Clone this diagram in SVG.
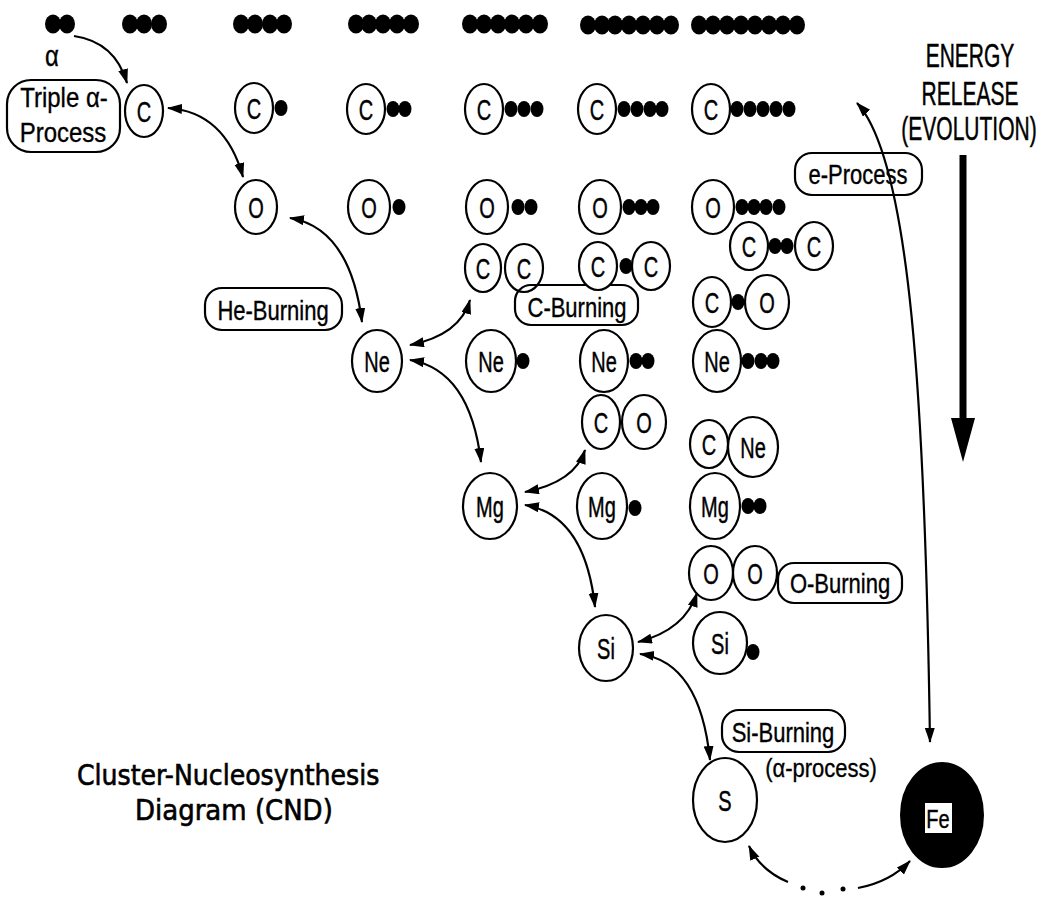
<svg xmlns="http://www.w3.org/2000/svg" width="1043" height="897" viewBox="0 0 1043 897">
<style>
.n{fill:#fff;stroke:#000;stroke-width:2.2}
.d{fill:#000}
.b{fill:none;stroke:#000;stroke-width:2.2}
.c{fill:none;stroke:#000;stroke-width:2.2}
.t{font-family:"Liberation Sans",Arial,sans-serif;font-size:20px;text-anchor:middle;fill:#000;stroke:#000;stroke-width:0.3}
.l{font-family:"Liberation Sans",Arial,sans-serif;font-size:22px;text-anchor:middle;fill:#000;stroke:#000;stroke-width:0.3}
.h{font-family:"DejaVu Sans","Liberation Sans",sans-serif;font-size:26px;fill:#000;stroke:#000;stroke-width:0.6}
</style>
<defs>
<marker id="ah" markerUnits="userSpaceOnUse" markerWidth="16" markerHeight="12" refX="14" refY="5" orient="auto-start-reverse">
<path d="M0,0 L15,5 L0,10 z" fill="#000"/>
</marker>
</defs>
<rect width="1043" height="897" fill="#fff"/>

<g id="top-row">
<g class="d">
<ellipse cx="53" cy="24" rx="8" ry="9.5"/><ellipse cx="67" cy="24" rx="8" ry="9.5"/>
<ellipse cx="130" cy="24" rx="8" ry="9.5"/><ellipse cx="144" cy="24" rx="8" ry="9.5"/><ellipse cx="159" cy="24" rx="8" ry="9.5"/>
<ellipse cx="241" cy="24" rx="8" ry="9.5"/><ellipse cx="255" cy="24" rx="8" ry="9.5"/><ellipse cx="270" cy="24" rx="8" ry="9.5"/><ellipse cx="284" cy="24" rx="8" ry="9.5"/>
<ellipse cx="356" cy="24" rx="8" ry="9.5"/><ellipse cx="369" cy="24" rx="8" ry="9.5"/><ellipse cx="383" cy="24" rx="8" ry="9.5"/><ellipse cx="397" cy="24" rx="8" ry="9.5"/><ellipse cx="411" cy="24" rx="8" ry="9.5"/>
<ellipse cx="470" cy="24" rx="8" ry="9.5"/><ellipse cx="484" cy="24" rx="8" ry="9.5"/><ellipse cx="498" cy="24" rx="8" ry="9.5"/><ellipse cx="512" cy="24" rx="8" ry="9.5"/><ellipse cx="526" cy="24" rx="8" ry="9.5"/><ellipse cx="540" cy="24" rx="8" ry="9.5"/>
<ellipse cx="588" cy="25" rx="8" ry="9.5"/><ellipse cx="602" cy="25" rx="8" ry="9.5"/><ellipse cx="615" cy="25" rx="8" ry="9.5"/><ellipse cx="629" cy="25" rx="8" ry="9.5"/><ellipse cx="643" cy="25" rx="8" ry="9.5"/><ellipse cx="657" cy="25" rx="8" ry="9.5"/><ellipse cx="671" cy="25" rx="8" ry="9.5"/>
<ellipse cx="699" cy="25" rx="8" ry="9.5"/><ellipse cx="713" cy="25" rx="8" ry="9.5"/><ellipse cx="727" cy="25" rx="8" ry="9.5"/><ellipse cx="741" cy="25" rx="8" ry="9.5"/><ellipse cx="755" cy="25" rx="8" ry="9.5"/><ellipse cx="769" cy="25" rx="8" ry="9.5"/><ellipse cx="783" cy="25" rx="8" ry="9.5"/><ellipse cx="797" cy="25" rx="8" ry="9.5"/>
</g>
</g>

<g id="connectors">
<path class="c" d="M74 36 Q115 42 127 83" marker-end="url(#ah)"/>
<path class="c" d="M168 108 Q225 112 243 177" marker-start="url(#ah)" marker-end="url(#ah)"/>
<path class="c" d="M290 218 Q350 228 362 322" marker-start="url(#ah)" marker-end="url(#ah)"/>
<path class="c" d="M410 345 Q460 335 470 300" marker-start="url(#ah)" marker-end="url(#ah)"/>
<path class="c" d="M410 360 Q470 370 481 462" marker-start="url(#ah)" marker-end="url(#ah)"/>
<path class="c" d="M525 492 Q575 482 585 450" marker-start="url(#ah)" marker-end="url(#ah)"/>
<path class="c" d="M525 505 Q585 515 595 607" marker-start="url(#ah)" marker-end="url(#ah)"/>
<path class="c" d="M638 642 Q685 630 697 593" marker-start="url(#ah)" marker-end="url(#ah)"/>
<path class="c" d="M640 654 Q700 662 710 760" marker-start="url(#ah)" marker-end="url(#ah)"/>
<path class="c" d="M788 882 Q760 870 749 846" marker-end="url(#ah)"/>
<path class="c" d="M858 888 Q890 882 910 861" marker-end="url(#ah)"/>
<circle class="d" cx="803" cy="888" r="2.5"/><circle class="d" cx="822" cy="893" r="2.5"/><circle class="d" cx="843" cy="889" r="2.5"/>
<path class="c" d="M857 103 C910 160 925 400 930 742" marker-start="url(#ah)" marker-end="url(#ah)"/>
<line x1="963" y1="155" x2="963" y2="422" stroke="#000" stroke-width="7"/>
<polygon points="951,418 975,418 963,462" fill="#000"/>
</g>

<g id="labels">
<text class="l" transform="translate(52 66) scale(1 1.2)" style="font-size:24px">α</text>
<text class="t" transform="translate(970 67) scale(1 1.55)" style="font-size:21px">ENERGY</text>
<text class="t" transform="translate(970 105) scale(1 1.55)" style="font-size:21px">RELEASE</text>
<text class="t" transform="translate(969 140) scale(1 1.55)" style="font-size:21px">(EVOLUTION)</text>
<text class="h" transform="translate(77 785) scale(0.97 1.1)">Cluster-Nucleosynthesis</text>
<text class="h" transform="translate(135 820) scale(1 1.1)">Diagram (CND)</text>
<text class="l" transform="translate(821 777) scale(1 1.2)">(α-process)</text>
</g>

<g id="triple-alpha">
<rect class="b" x="7" y="80" width="113" height="72" rx="24"/>
<text class="l" transform="translate(64 107) scale(1 1.15)" style="font-size:24px">Triple α-</text>
<text class="l" transform="translate(63 142) scale(1 1.15)" style="font-size:24px">Process</text>
</g>
<g id="he-burning"><rect class="b" x="205" y="288" width="137" height="42" rx="17"/><text class="l" transform="translate(273 320) scale(1 1.25)">He-Burning</text></g>
<g id="c-burning"><rect class="b" x="515" y="285" width="123" height="40" rx="16"/><text class="l" transform="translate(577 317) scale(1 1.25)">C-Burning</text></g>
<g id="e-process"><rect class="b" x="795" y="153" width="127" height="42" rx="17"/><text class="l" transform="translate(858 184) scale(1 1.25)">e-Process</text></g>
<g id="o-burning"><rect class="b" x="778" y="563" width="124" height="40" rx="16"/><text class="l" transform="translate(840 593) scale(1 1.25)">O-Burning</text></g>
<g id="si-burning"><rect class="b" x="722" y="710" width="123" height="42" rx="17"/><text class="l" transform="translate(783 742) scale(1 1.25)">Si-Burning</text></g>

<g id="C1"><ellipse class="n" cx="144" cy="111" rx="19" ry="26"/><text class="t" transform="translate(144 121.5) scale(1 1.5)">C</text></g>
<g id="C2"><ellipse class="n" cx="254" cy="108" rx="19" ry="25"/><text class="t" transform="translate(254 118.5) scale(1 1.5)">C</text><ellipse class="d" cx="281" cy="108" rx="6.5" ry="8"/></g>
<g id="C3"><ellipse class="n" cx="366" cy="109" rx="19" ry="25"/><text class="t" transform="translate(366 119.5) scale(1 1.5)">C</text><ellipse class="d" cx="393" cy="109" rx="6.5" ry="8"/><ellipse class="d" cx="405" cy="109" rx="6.5" ry="8"/></g>
<g id="C4"><ellipse class="n" cx="484" cy="109" rx="19" ry="25"/><text class="t" transform="translate(484 119.5) scale(1 1.5)">C</text><ellipse class="d" cx="511" cy="109" rx="6.5" ry="8"/><ellipse class="d" cx="524" cy="109" rx="6.5" ry="8"/><ellipse class="d" cx="537" cy="109" rx="6.5" ry="8"/></g>
<g id="C5"><ellipse class="n" cx="597" cy="109" rx="19" ry="25"/><text class="t" transform="translate(597 119.5) scale(1 1.5)">C</text><ellipse class="d" cx="624" cy="109" rx="6.5" ry="8"/><ellipse class="d" cx="637" cy="109" rx="6.5" ry="8"/><ellipse class="d" cx="650" cy="109" rx="6.5" ry="8"/><ellipse class="d" cx="662" cy="109" rx="6.5" ry="8"/></g>
<g id="C6"><ellipse class="n" cx="711" cy="109" rx="19" ry="25"/><text class="t" transform="translate(711 119.5) scale(1 1.5)">C</text><ellipse class="d" cx="737" cy="109" rx="6.5" ry="8"/><ellipse class="d" cx="750" cy="109" rx="6.5" ry="8"/><ellipse class="d" cx="763" cy="109" rx="6.5" ry="8"/><ellipse class="d" cx="776" cy="109" rx="6.5" ry="8"/><ellipse class="d" cx="789" cy="109" rx="6.5" ry="8"/></g>

<g id="O1"><ellipse class="n" cx="256" cy="207" rx="21" ry="27"/><text class="t" transform="translate(256 217.5) scale(1 1.5)">O</text></g>
<g id="O2"><ellipse class="n" cx="369" cy="207" rx="21" ry="27"/><text class="t" transform="translate(369 217.5) scale(1 1.5)">O</text><ellipse class="d" cx="399" cy="207" rx="6.5" ry="8"/></g>
<g id="O3"><ellipse class="n" cx="487" cy="207" rx="21" ry="27"/><text class="t" transform="translate(487 217.5) scale(1 1.5)">O</text><ellipse class="d" cx="518" cy="207" rx="6.5" ry="8"/><ellipse class="d" cx="531" cy="207" rx="6.5" ry="8"/></g>
<g id="O4"><ellipse class="n" cx="600" cy="207" rx="21" ry="27"/><text class="t" transform="translate(600 217.5) scale(1 1.5)">O</text><ellipse class="d" cx="629" cy="207" rx="6.5" ry="8"/><ellipse class="d" cx="641" cy="207" rx="6.5" ry="8"/><ellipse class="d" cx="653" cy="207" rx="6.5" ry="8"/></g>
<g id="O5"><ellipse class="n" cx="713" cy="207" rx="21" ry="27"/><text class="t" transform="translate(713 217.5) scale(1 1.5)">O</text><ellipse class="d" cx="742" cy="207" rx="6.5" ry="8"/><ellipse class="d" cx="754" cy="207" rx="6.5" ry="8"/><ellipse class="d" cx="766" cy="207" rx="6.5" ry="8"/><ellipse class="d" cx="779" cy="207" rx="6.5" ry="8"/></g>

<g id="CC"><ellipse class="n" cx="483" cy="268" rx="18" ry="24"/><text class="t" transform="translate(483 278.5) scale(1 1.5)">C</text><ellipse class="n" cx="524" cy="268" rx="19" ry="24" style="fill:none"/><text class="t" transform="translate(524 278.5) scale(1 1.5)">C</text></g>
<g id="CdC"><ellipse class="n" cx="598" cy="266" rx="19" ry="24"/><text class="t" transform="translate(598 276.5) scale(1 1.5)">C</text><ellipse class="d" cx="626" cy="266" rx="6.5" ry="8"/><ellipse class="n" cx="651" cy="266" rx="19" ry="24"/><text class="t" transform="translate(651 276.5) scale(1 1.5)">C</text></g>
<g id="CddC"><ellipse class="n" cx="749" cy="246" rx="19" ry="24"/><text class="t" transform="translate(749 256.5) scale(1 1.5)">C</text><ellipse class="d" cx="775" cy="246" rx="6.5" ry="8"/><ellipse class="d" cx="787" cy="246" rx="6.5" ry="8"/><ellipse class="n" cx="814" cy="246" rx="19" ry="24"/><text class="t" transform="translate(814 256.5) scale(1 1.5)">C</text></g>
<g id="CdO"><ellipse class="n" cx="712" cy="302" rx="19" ry="25"/><text class="t" transform="translate(712 312.5) scale(1 1.5)">C</text><ellipse class="d" cx="738" cy="302" rx="6.5" ry="8"/><ellipse class="n" cx="767" cy="302" rx="22" ry="27"/><text class="t" transform="translate(767 312.5) scale(1 1.5)">O</text></g>

<g id="Ne1"><ellipse class="n" cx="377" cy="361" rx="25" ry="31"/><text class="t" transform="translate(377 371.5) scale(1 1.5)">Ne</text></g>
<g id="Ne2"><ellipse class="n" cx="491" cy="361" rx="25" ry="31"/><text class="t" transform="translate(491 371.5) scale(1 1.5)">Ne</text><ellipse class="d" cx="523" cy="361" rx="6.5" ry="8"/></g>
<g id="Ne3"><ellipse class="n" cx="604" cy="361" rx="24" ry="31"/><text class="t" transform="translate(604 371.5) scale(1 1.5)">Ne</text><ellipse class="d" cx="636" cy="361" rx="6.5" ry="8"/><ellipse class="d" cx="648" cy="361" rx="6.5" ry="8"/></g>
<g id="Ne4"><ellipse class="n" cx="717" cy="361" rx="24" ry="31"/><text class="t" transform="translate(717 371.5) scale(1 1.5)">Ne</text><ellipse class="d" cx="748" cy="361" rx="6.5" ry="8"/><ellipse class="d" cx="761" cy="361" rx="6.5" ry="8"/><ellipse class="d" cx="773" cy="361" rx="6.5" ry="8"/></g>

<g id="CO"><ellipse class="n" cx="601" cy="422" rx="19" ry="27"/><text class="t" transform="translate(601 432.5) scale(1 1.5)">C</text><ellipse class="n" cx="644" cy="422" rx="22" ry="27"/><text class="t" transform="translate(644 432.5) scale(1 1.5)">O</text></g>
<g id="CNe"><ellipse class="n" cx="709" cy="444" rx="19" ry="24"/><text class="t" transform="translate(709 454.5) scale(1 1.5)">C</text><ellipse class="n" cx="753" cy="447" rx="25" ry="30"/><text class="t" transform="translate(753 457.5) scale(1 1.5)">Ne</text></g>

<g id="Mg1"><ellipse class="n" cx="490" cy="506" rx="27" ry="33"/><text class="t" transform="translate(490 516.5) scale(1 1.5)">Mg</text></g>
<g id="Mg2"><ellipse class="n" cx="602" cy="506" rx="25" ry="33"/><text class="t" transform="translate(602 516.5) scale(1 1.5)">Mg</text><ellipse class="d" cx="635" cy="508" rx="6.5" ry="8"/></g>
<g id="Mg3"><ellipse class="n" cx="715" cy="506" rx="25" ry="33"/><text class="t" transform="translate(715 516.5) scale(1 1.5)">Mg</text><ellipse class="d" cx="748" cy="506" rx="6.5" ry="8"/><ellipse class="d" cx="760" cy="506" rx="6.5" ry="8"/></g>

<g id="OO"><ellipse class="n" cx="711" cy="573" rx="22" ry="27"/><text class="t" transform="translate(711 583.5) scale(1 1.5)">O</text><ellipse class="n" cx="755" cy="573" rx="22" ry="27"/><text class="t" transform="translate(755 583.5) scale(1 1.5)">O</text></g>
<g id="Si1"><ellipse class="n" cx="606" cy="648" rx="27" ry="33"/><text class="t" transform="translate(606 658.5) scale(1 1.5)">Si</text></g>
<g id="Si2"><ellipse class="n" cx="720" cy="643" rx="27" ry="31"/><text class="t" transform="translate(720 653.5) scale(1 1.5)">Si</text><ellipse class="d" cx="753" cy="652" rx="6.5" ry="8"/></g>
<g id="S"><ellipse class="n" cx="725" cy="800" rx="32" ry="42"/><text class="t" transform="translate(725 810.5) scale(1 1.5)">S</text></g>
<g id="Fe"><ellipse cx="942" cy="815" rx="41" ry="52" fill="#000" stroke="#000" stroke-width="2"/><rect x="925" y="803" width="27" height="30" fill="#fff"/><text class="t" transform="translate(938 828) scale(1 1.3)">Fe</text></g>
</svg>
